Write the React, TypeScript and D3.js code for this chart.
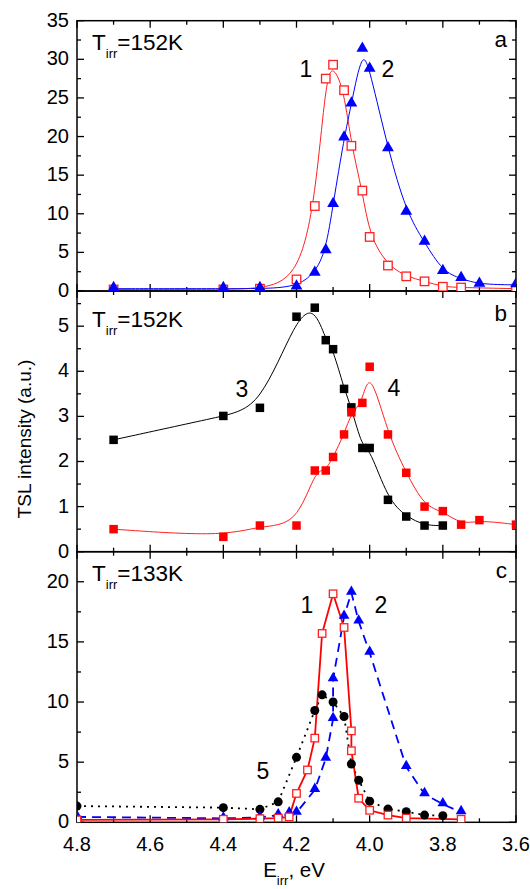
import React, { useEffect, useRef } from 'react';
import * as d3 from 'd3';

// E_irr (eV) vs TSL intensity
// panel a, T_irr = 152K
const aCurve1: [number, number][] = [
  [4.7, 0.2], [4.4, 0.2], [4.3, 0.3], [4.2, 1.5], [4.15, 11], [4.12, 27.5], [4.1, 29.3],
  [4.07, 26], [4.05, 18.8], [4.02, 13], [4.0, 7], [3.95, 3.3], [3.9, 1.9], [3.85, 1.25],
  [3.8, 0.55], [3.75, 0.45], [3.6, 0.3]
];
const aCurve2: [number, number][] = [
  [4.7, 0.3], [4.4, 0.3], [4.3, 0.3], [4.2, 0.5], [4.15, 2.3], [4.12, 5.2], [4.1, 11.2],
  [4.07, 19.8], [4.05, 24.2], [4.02, 31.3], [4.0, 28.7], [3.95, 18.4], [3.9, 10.2],
  [3.85, 6.3], [3.8, 2.5], [3.75, 1.6], [3.7, 0.85], [3.6, 0.8]
];

// panel b, T_irr = 152K
const bCurve3: [number, number][] = [
  [4.7, 2.48], [4.4, 3.01], [4.3, 3.19], [4.2, 5.21], [4.15, 5.41], [4.12, 4.69], [4.1, 4.49],
  [4.07, 3.61], [4.05, 3.2], [4.02, 2.3], [4.0, 2.3], [3.95, 1.15], [3.9, 0.78], [3.85, 0.58],
  [3.8, 0.58]
];
const bCurve4: [number, number][] = [
  [4.7, 0.5], [4.4, 0.33], [4.3, 0.58], [4.2, 0.58], [4.15, 1.8], [4.12, 1.8], [4.1, 2.1],
  [4.07, 2.6], [4.05, 3.09], [4.02, 3.3], [4.0, 4.1], [3.95, 2.6], [3.9, 1.75], [3.85, 1.0],
  [3.8, 0.9], [3.75, 0.6], [3.7, 0.7], [3.6, 0.6]
];

// panel c, T_irr = 133K
const cCurve1: [number, number][] = [
  [4.8, 0.2], [4.4, 0.25], [4.3, 0.3], [4.25, 0.35], [4.22, 0.45], [4.2, 2.4], [4.17, 4.35],
  [4.15, 7.0], [4.13, 15.7], [4.1, 19.0], [4.07, 16.2], [4.05, 7.6], [4.05, 5.95], [4.03, 2.0],
  [4.0, 1.0], [3.95, 0.6], [3.9, 0.35], [3.75, 0.25]
];
const cCurve2: [number, number][] = [
  [4.8, 0.45], [4.4, 0.33], [4.3, 0.4], [4.25, 0.6], [4.22, 0.75], [4.2, 0.8], [4.15, 2.7],
  [4.12, 5.3], [4.1, 8.6], [4.1, 11.9], [4.07, 17.1], [4.05, 19.1], [4.03, 16.7], [4.0, 14.1],
  [3.9, 4.6], [3.85, 2.35], [3.8, 1.5], [3.75, 0.85]
];
const cCurve5: [number, number][] = [
  [4.8, 1.35], [4.4, 1.22], [4.3, 1.08], [4.25, 1.7], [4.2, 5.4], [4.15, 9.3], [4.13, 10.6],
  [4.1, 10.0], [4.07, 8.8], [4.05, 4.85], [4.03, 3.5], [4.0, 1.75], [3.95, 1.1], [3.9, 0.88],
  [3.85, 0.6], [3.8, 0.55]
];

const xMajor = [4.8, 4.6, 4.4, 4.2, 4.0, 3.8, 3.6];
const xMinor = [4.7, 4.5, 4.3, 4.1, 3.9, 3.7];

const FONT = '"Liberation Sans", Arial, Helvetica, sans-serif';
const X0 = 77, X1 = 516;

const panels = [
  { top: 20.7, bottom: 291, max: 35, major: d3.range(0, 35.01, 5), minor: d3.range(2.5, 35, 5), labels: d3.range(0, 35.01, 5), tag: 'a', temp: '152K' },
  { top: 291, bottom: 551.7, max: 5.78, major: d3.range(0, 5.01, 1), minor: d3.range(0.5, 5.7, 1), labels: d3.range(0, 5.01, 1), tag: 'b', temp: '152K' },
  { top: 551.7, bottom: 822.3, max: 22.5, major: d3.range(0, 20.01, 5), minor: d3.range(2.5, 22, 5), labels: d3.range(0, 20.01, 5), tag: 'c', temp: '133K' }
];

export default function App()
{
  const ref = useRef<SVGSVGElement>(null);

  useEffect(() =>
  {
    const svg = d3.select(ref.current);
    svg.selectAll('*').remove();

    const x = d3.scaleLinear().domain([4.8, 3.6]).range([X0, X1]);
    const ys = panels.map(p => d3.scaleLinear().domain([0, p.max]).range([p.bottom, p.top]));

    const defs = svg.append('defs');

    panels.forEach((p, i) =>
    {
      defs.append('clipPath').attr('id', 'clip' + i)
        .append('rect').attr('x', X0).attr('y', p.top).attr('width', X1 - X0).attr('height', p.bottom - p.top);

      const g = svg.append('g');
      const y = ys[i];

      // - ticks, all pointing inward
      const tick = (x1: number, y1: number, x2: number, y2: number) =>
        g.append('line').attr('x1', x1).attr('y1', y1).attr('x2', x2).attr('y2', y2)
          .attr('stroke', '#000').attr('stroke-width', 1.3);

      xMajor.forEach(v => { tick(x(v), p.bottom, x(v), p.bottom - 7); tick(x(v), p.top, x(v), p.top + 7); });
      xMinor.forEach(v => { tick(x(v), p.bottom, x(v), p.bottom - 4); tick(x(v), p.top, x(v), p.top + 4); });
      p.major.forEach(v => { tick(X0, y(v), X0 + 7, y(v)); tick(X1, y(v), X1 - 7, y(v)); });
      p.minor.forEach(v => { tick(X0, y(v), X0 + 4, y(v)); tick(X1, y(v), X1 - 4, y(v)); });

      g.append('rect').attr('x', X0).attr('y', p.top).attr('width', X1 - X0).attr('height', p.bottom - p.top)
        .attr('fill', 'none').attr('stroke', '#000').attr('stroke-width', 1.5);

      g.selectAll('text.ylab').data(p.labels).enter().append('text')
        .attr('x', 69).attr('y', d => y(d)).attr('dy', '0.3em')
        .attr('text-anchor', 'end').attr('font-size', 20).attr('font-family', FONT)
        .text(d => d);

      // - T_irr label and panel letter
      const t = g.append('text').attr('x', 92).attr('y', p.top + (i == 1 ? 35.5 : 29.5))
        .attr('font-size', 22.5).attr('font-family', FONT);
      t.append('tspan').text('T');
      t.append('tspan').attr('font-size', 13).attr('dy', 8).text('irr');
      t.append('tspan').attr('dy', -8).text('=' + p.temp);

      g.append('text').attr('x', 507).attr('y', p.top + (i == 1 ? 29.5 : 26.5)).attr('text-anchor', 'end')
        .attr('font-size', 22.5).attr('font-family', FONT).text(p.tag);
    });

    const series = (i: number, data: [number, number][], color: string, curve: d3.CurveFactory,
      width: number, dash: string | null) =>
    {
      const y = ys[i];
      const line = d3.line<[number, number]>().x(d => x(d[0])).y(d => y(d[1])).curve(curve);
      svg.append('path').datum(data).attr('d', line).attr('fill', 'none')
        .attr('stroke', color).attr('stroke-width', width)
        .attr('stroke-dasharray', dash).attr('clip-path', 'url(#clip' + i + ')');
    };

    const markers = (i: number, data: [number, number][], kind: string, color: string, size: number) =>
    {
      const y = ys[i];
      const g = svg.append('g').attr('clip-path', 'url(#clip' + i + ')');
      if (kind == 'openSquare' || kind == 'square')
      {
        g.selectAll('rect').data(data).enter().append('rect')
          .attr('x', d => x(d[0]) - size / 2).attr('y', d => y(d[1]) - size / 2)
          .attr('width', size).attr('height', size)
          .attr('fill', kind == 'square' ? color : '#fff')
          .attr('stroke', color).attr('stroke-width', kind == 'square' ? 0 : 1.3);
      }
      else if (kind == 'circle')
      {
        g.selectAll('circle').data(data).enter().append('circle')
          .attr('cx', d => x(d[0])).attr('cy', d => y(d[1])).attr('r', size / 2).attr('fill', color);
      }
      else
      {
        const sym = d3.symbol().type(d3.symbolTriangle).size(size * size * 0.5);
        g.selectAll('path').data(data).enter().append('path')
          .attr('transform', d => 'translate(' + x(d[0]) + ',' + (y(d[1]) - 1) + ')')
          .attr('d', sym).attr('fill', color);
      }
    };

    // panel a
    series(0, aCurve1, '#ff2020', d3.curveBasis, 1, null);
    series(0, aCurve2, '#0000ff', d3.curveBasis, 1, null);
    markers(0, aCurve1, 'openSquare', '#ff2020', 8.5);
    markers(0, aCurve2, 'triangle', '#0000ff', 11);

    // panel b
    series(1, bCurve3, '#000', d3.curveBasis, 1, null);
    series(1, bCurve4, '#ff2020', d3.curveBasis, 1, null);
    markers(1, bCurve3, 'square', '#000', 8.5);
    markers(1, bCurve4, 'square', '#ff0000', 8.5);

    // panel c
    series(2, cCurve5, '#000', d3.curveLinear, 1.8, '2,5');
    series(2, cCurve2, '#0000ff', d3.curveLinear, 1.8, '9,6');
    series(2, cCurve1, '#ff0000', d3.curveLinear, 1.8, null);
    markers(2, cCurve5, 'circle', '#000', 9);
    markers(2, cCurve2, 'triangle', '#0000ff', 10);
    markers(2, cCurve1, 'openSquare', '#ff2020', 7.5);

    // - curve numbers
    const num = [
      { t: '1', x: 306, y: 77 }, { t: '2', x: 388, y: 77 },
      { t: '3', x: 242, y: 397 }, { t: '4', x: 394, y: 396 },
      { t: '1', x: 307, y: 613 }, { t: '2', x: 381, y: 613 }, { t: '5', x: 263, y: 779 }
    ];
    svg.selectAll('text.num').data(num).enter().append('text')
      .attr('x', d => d.x).attr('y', d => d.y).attr('text-anchor', 'middle')
      .attr('font-size', 23).attr('font-family', FONT).text(d => d.t);

    // - x axis
    svg.selectAll('text.xlab').data(xMajor).enter().append('text')
      .attr('x', d => x(d)).attr('y', 850.5).attr('text-anchor', 'middle')
      .attr('font-size', 20).attr('font-family', FONT).text(d => d.toFixed(1));

    const xt = svg.append('text').attr('x', 294).attr('y', 877).attr('text-anchor', 'middle')
      .attr('font-size', 20.5).attr('font-family', FONT);
    xt.append('tspan').text('E');
    xt.append('tspan').attr('font-size', 13).attr('dy', 8).text('irr');
    xt.append('tspan').attr('dy', -8).text(', eV');

    svg.append('text').attr('transform', 'translate(31,439) rotate(-90)').attr('text-anchor', 'middle')
      .attr('font-size', 19).attr('font-family', FONT).text('TSL intensity (a.u.)');
  }, []);

  return (
    <div style={{ position: 'absolute', left: 0, top: 0, width: 530, height: 889, background: '#fff' }}>
      <svg ref={ref} width={530} height={889} style={{ display: 'block' }}></svg>
    </div>
  );
}
